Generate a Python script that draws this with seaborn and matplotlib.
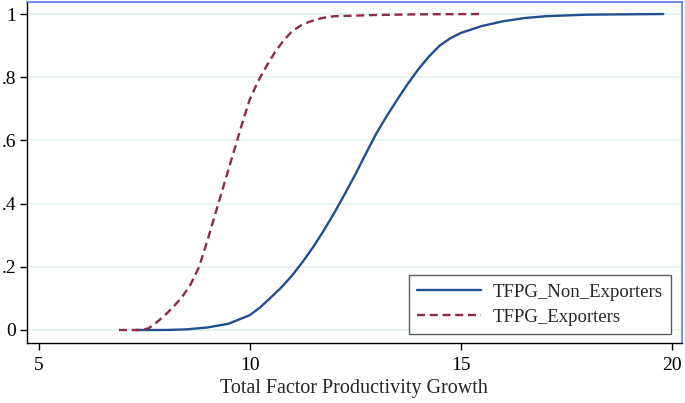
import pandas as pd
import matplotlib
matplotlib.use("Agg")
import matplotlib.pyplot as plt
import seaborn as sns

# CDF values
non_exp_x = [7.3, 8.0, 8.5, 9.0, 9.5, 10.0, 10.25, 10.5, 10.75, 11.0, 11.25, 11.5,
             11.75, 12.0, 12.25, 12.5, 12.75, 13.0, 13.25, 13.5, 13.75, 14.0,
             14.25, 14.5, 14.75, 15.0, 15.5, 16.0, 16.5, 17.0, 18.0, 19.8]
non_exp_y = [0, 0, 0.002, 0.008, 0.02, 0.047, 0.072, 0.103, 0.135, 0.172, 0.215, 0.262,
             0.314, 0.37, 0.43, 0.492, 0.558, 0.622, 0.678, 0.73, 0.78, 0.826,
             0.866, 0.9, 0.923, 0.94, 0.962, 0.977, 0.987, 0.993, 0.998, 1.0]

exp_x = [6.9, 7.4, 7.6, 7.8, 8.0, 8.2, 8.4, 8.6, 8.8, 9.0, 9.2, 9.4, 9.6, 9.8,
         10.0, 10.2, 10.4, 10.6, 10.8, 11.0, 11.2, 11.4, 11.7, 12.0, 13.0, 14.0, 15.45]
exp_y = [0, 0, 0.005, 0.025, 0.048, 0.075, 0.105, 0.145, 0.2, 0.285, 0.375, 0.465,
         0.555, 0.645, 0.73, 0.788, 0.836, 0.88, 0.916, 0.945, 0.963, 0.975,
         0.987, 0.993, 0.997, 0.999, 1.0]

series_names = ["TFPG_Non_Exporters", "TFPG_Exporters"]
x_ticks = [5, 10, 15, 20]
y_ticks = [0, 0.2, 0.4, 0.6, 0.8, 1.0]
y_tick_labels = ["0", ".2", ".4", ".6", ".8", "1"]

df = pd.concat([
    pd.DataFrame({"x": non_exp_x, "y": non_exp_y, "series": series_names[0]}),
    pd.DataFrame({"x": exp_x, "y": exp_y, "series": series_names[1]}),
])

sns.set_style("white")
plt.rcParams["font.family"] = ["Liberation Serif", "DejaVu Serif"]

fig = plt.figure(figsize=(6.85, 4.03), dpi=100)
ax = fig.add_axes([0.0394, 0.149, 0.956, 0.846])

palette = {series_names[0]: "#1f4f8f", series_names[1]: "#8c2a48"}
dashes = {series_names[0]: "", series_names[1]: (3.4, 2.0)}
sns.lineplot(data=df, x="x", y="y", hue="series", style="series",
             palette=palette, dashes=dashes, sort=False, estimator=None,
             linewidth=1.7, ax=ax)

ax.set_xlim(4.72, 20.24)
ax.set_ylim(-0.041, 1.038)
ax.set_xticks(x_ticks)
ax.set_xticklabels([str(t) for t in x_ticks])
ax.set_yticks(y_ticks)
ax.set_yticklabels(y_tick_labels)
ax.tick_params(axis="both", direction="out", length=5, width=1, labelsize=14,
               colors="black", bottom=True, left=True)
ax.tick_params(axis="x", pad=5)
ax.tick_params(axis="y", pad=3)

ax.yaxis.grid(True, color="#e2f1ec", linewidth=1.2)
ax.xaxis.grid(False)
ax.set_axisbelow(True)

for side in ["left", "bottom"]:
    ax.spines[side].set_color("black")
    ax.spines[side].set_linewidth(1)
for side in ["top", "right"]:
    ax.spines[side].set_color("#5a78f0")
    ax.spines[side].set_linewidth(1.2)

ax.set_xlabel("Total Factor Productivity Growth", fontsize=14.5, labelpad=4)
ax.set_ylabel("")

leg = ax.legend(title=None, loc="lower right", bbox_to_anchor=(0.983, 0.026),
                borderaxespad=0, fontsize=13.5, frameon=True, fancybox=False,
                edgecolor="#333333", handlelength=3.4, handletextpad=0.6,
                borderpad=0.45, labelspacing=0.42)
leg.get_frame().set_linewidth(1)

fig.savefig("out.png", dpi=100)
